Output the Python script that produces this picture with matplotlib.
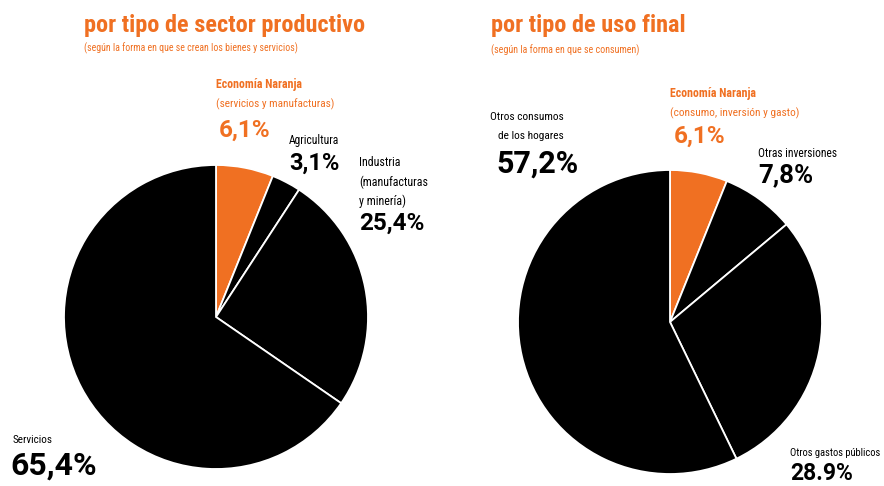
import matplotlib
matplotlib.use("Agg")
import matplotlib.pyplot as plt

# Datos
sector_labels = ["Economía Naranja", "Agricultura", "Industria", "Servicios"]
sector_values = [6.1, 3.1, 25.4, 65.4]
sector_pct_text = ["6,1%", "3,1%", "25,4%", "65,4%"]

uso_labels = ["Economía Naranja", "Otras inversiones", "Otros gastos públicos",
              "Otros consumos de los hogares"]
uso_values = [6.1, 7.8, 28.9, 57.2]
uso_pct_text = ["6,1%", "7,8%", "28.9%", "57,2%"]

NARANJA = "#F07022"
NEGRO = "#000000"
FUENTE = ["Roboto Condensed", "DejaVu Sans"]
FUENTE_NUM = ["Roboto", "DejaVu Sans"]

W, H = 884, 486
fig = plt.figure(figsize=(W / 100, H / 100), dpi=100)
fig.patch.set_facecolor("white")


def texto(x, y, s, size, color=NEGRO, bold=False, ha="left", familia=FUENTE):
    # x, y en pixeles desde arriba a la izquierda, y = linea base
    fig.text(x / W, 1 - y / H, s, fontsize=size, color=color, ha=ha, va="baseline",
             fontweight="bold" if bold else "normal", family=familia,
             fontstretch="condensed" if familia is FUENTE else "normal")


def numero(x, y, s, size, color=NEGRO):
    texto(x, y, s, size, color, bold=True, familia=FUENTE_NUM)


def torta(cx, cy, r, values):
    R = r * 1.04
    ax = fig.add_axes([(cx - R) / W, (H - cy - R) / H, 2 * R / W, 2 * R / H])
    colores = [NARANJA] + [NEGRO] * (len(values) - 1)
    ax.pie(values, colors=colores, startangle=90, counterclock=False,
           wedgeprops=dict(edgecolor="white", linewidth=1.3))
    ax.set_xlim(-1.04, 1.04)
    ax.set_ylim(-1.04, 1.04)
    ax.set_aspect("equal")
    ax.axis("off")
    return ax


torta(216, 317, 152, sector_values)
torta(670, 322, 152, uso_values)

# Panel izquierdo
texto(84, 32, "por tipo de sector productivo", 17.5, NARANJA, bold=True)
texto(84, 51, "(según la forma en que se crean los bienes y servicios)", 7.15, NARANJA)
texto(216, 88, sector_labels[0], 8.6, NARANJA, bold=True)
texto(216, 107, "(servicios y manufacturas)", 8.1, NARANJA)
numero(219, 137, sector_pct_text[0], 17.5, NARANJA)
texto(289, 144, sector_labels[1], 8.4)
numero(289, 170, sector_pct_text[1], 17)
texto(359, 166, sector_labels[2], 8.6)
texto(359, 186, "(manufacturas", 8.6)
texto(359, 205, "y minería)", 8.6)
numero(359, 230, sector_pct_text[2], 17.5)
texto(13, 443, sector_labels[3], 8)
numero(10, 475, sector_pct_text[3], 23)

# Panel derecho
texto(491, 32, "por tipo de uso final", 17.5, NARANJA, bold=True)
texto(491, 53, "(según la forma en que se consumen)", 7.2, NARANJA)
texto(670, 97, uso_labels[0], 8.6, NARANJA, bold=True)
texto(670, 116, "(consumo, inversión y gasto)", 8.2, NARANJA)
numero(674, 143, uso_pct_text[0], 17.5, NARANJA)
texto(758, 157, uso_labels[1], 8.3)
numero(758, 182, uso_pct_text[1], 18.5)
texto(790, 456, uso_labels[2], 7.6)
numero(790, 480, uso_pct_text[2], 16.5)
texto(564, 120, "Otros consumos", 8.2, ha="right")
texto(564, 139, "de los hogares", 8.2, ha="right")
numero(496, 173, uso_pct_text[3], 22)

fig.savefig("out.png", dpi=100)
